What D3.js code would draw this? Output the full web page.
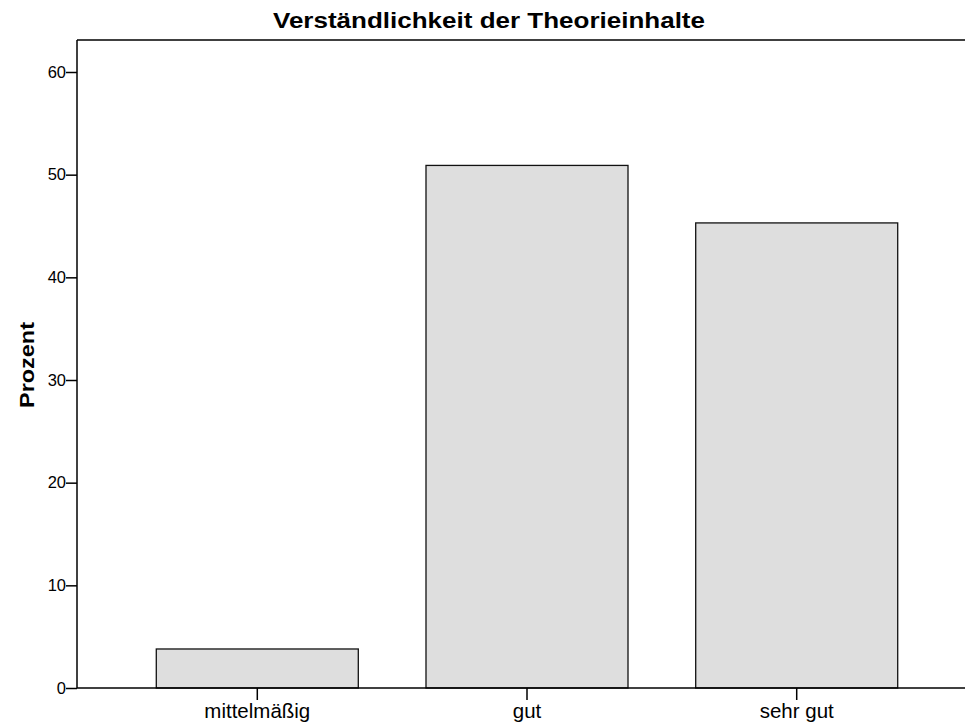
<html>
<head>
	<title>Verständlichkeit</title>
	<script src="https://d3js.org/d3.v7.min.js"></script>
	<style>
		html, body { margin: 0; background: #fff; overflow: hidden; }
		svg { display: block; }
		text { font-family: "Liberation Sans", Arial, sans-serif; fill: #000; }
	</style>
</head>
<body>
<div id="chart"></div>
<script>

	//chart data
	var categories = ['mittelmäßig', 'gut', 'sehr gut'];
	var percents = [3.8, 50.9, 45.3];
	var yTicks = [0, 10, 20, 30, 40, 50, 60];

	var width = 965;
	var height = 727;

	var svg = d3.select('#chart')
		.append('svg')
		.attr('width', width)
		.attr('height', height);

	//plot frame (plotTop, since "top" is taken by window)
	var plotLeft = 77, plotTop = 40, plotBottom = 688, plotRight = 977;

	var x = d3.scaleBand()
		.domain(categories)
		.range([plotLeft, plotRight])
		.paddingInner(0.251)
		.paddingOuter(0.294);

	var y = d3.scaleLinear()
		.domain([0, 60])
		.range([plotBottom, 72]);

	//bars
	svg.selectAll('.bar')
		.data(percents)
		.enter()
		.append('rect')
		.attr('class', 'bar')
		.attr('x', function(d, i){ return x(categories[i]); })
		.attr('y', function(d){ return y(d); })
		.attr('width', x.bandwidth())
		.attr('height', function(d){ return plotBottom - y(d); })
		.attr('fill', '#dedede')
		.attr('stroke', '#111')
		.attr('stroke-width', 1.3);

	//top frame line
	svg.append('line')
		.attr('x1', plotLeft).attr('x2', width)
		.attr('y1', plotTop).attr('y2', plotTop)
		.attr('stroke', '#000').attr('stroke-width', 1.5);

	//y axis
	var yAxis = svg.append('g')
		.attr('transform', 'translate(' + plotLeft + ',0)')
		.call(d3.axisLeft(y).tickValues(yTicks).tickSize(11).tickPadding(0).tickFormat(d3.format('d')));
	yAxis.select('.domain').attr('d', 'M0,' + plotTop + 'V' + plotBottom).attr('stroke-width', 1.5);
	yAxis.selectAll('.tick line').attr('stroke-width', 1.5);
	yAxis.selectAll('.tick text')
		.attr('font-size', 16.5)
		.attr('font-family', '"Liberation Sans", Arial, sans-serif');

	//x axis
	var xAxis = svg.append('g')
		.attr('transform', 'translate(0,' + plotBottom + ')')
		.call(d3.axisBottom(x).tickSize(12).tickPadding(3));
	xAxis.select('.domain').attr('d', 'M' + plotLeft + ',0H' + width).attr('stroke-width', 1.5);
	xAxis.selectAll('.tick line').attr('stroke-width', 1.5);
	xAxis.selectAll('.tick text')
		.attr('font-size', 20.5)
		.attr('font-family', '"Liberation Sans", Arial, sans-serif');

	//title
	svg.append('text')
		.attr('x', 489)
		.attr('y', 28)
		.attr('text-anchor', 'middle')
		.attr('font-size', 22.5)
		.attr('font-weight', 'bold')
		.attr('textLength', 432)
		.attr('lengthAdjust', 'spacingAndGlyphs')
		.text('Verständlichkeit der Theorieinhalte');

	//y label
	svg.append('text')
		.attr('transform', 'translate(34,365) rotate(-90)')
		.attr('text-anchor', 'middle')
		.attr('font-size', 21)
		.attr('font-weight', 'bold')
		.attr('textLength', 86)
		.attr('lengthAdjust', 'spacingAndGlyphs')
		.text('Prozent');

</script>
</body>
</html>
